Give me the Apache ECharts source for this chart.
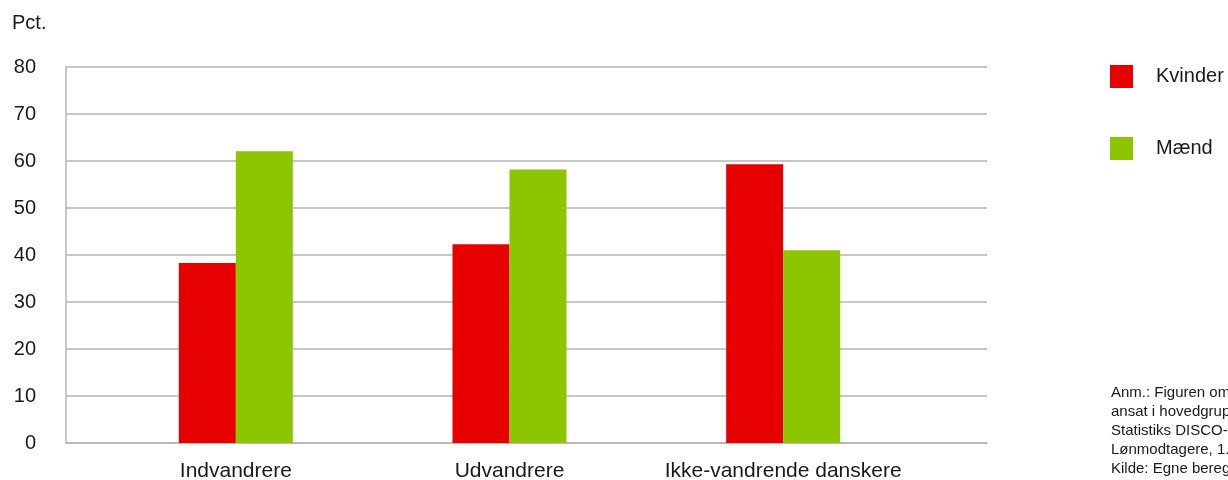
<!DOCTYPE html>
<html>
<head>
<meta charset="utf-8">
<script src="https://cdn.jsdelivr.net/npm/echarts@6/dist/echarts.min.js"></script>
<style>
html,body{margin:0;padding:0;background:#fff;}
#c{width:1228px;height:480px;}
</style>
</head>
<body>
<div id="c"></div>
<script>
var categories = ['Indvandrere', 'Udvandrere', 'Ikke-vandrende danskere'];
var kvinder = [38.3, 42.3, 59.3];
var maend = [62.1, 58.2, 41.0];
var seriesNames = ['Kvinder', 'Mænd'];
var yTicks = { min: 0, max: 80, interval: 10 };
var yUnit = 'Pct.';
var noteLines = [
  'Anm.: Figuren omfatter personer',
  'ansat i hovedgruppe i Danmarks',
  'Statistiks DISCO-klassifikation.',
  'Lønmodtagere, 1. halvår.',
  'Kilde: Egne beregninger.'
];

var FONT = '"Liberation Sans", Arial, Helvetica, sans-serif';
var GRIDC = '#b4b4b4';
var chart = echarts.init(document.getElementById('c'), null, {renderer: 'canvas'});
chart.setOption({
  animation: false,
  textStyle: {fontFamily: FONT},
  grid: [
    {left: 66, right: 241, top: 67, bottom: 37, containLabel: false, outerBoundsMode: 'none'},
    {left: 99, right: 308, top: 67, bottom: 37, containLabel: false, outerBoundsMode: 'none'}
  ],
  xAxis: [
    {gridIndex: 0, type: 'category', data: [''], axisLine: {show: true, lineStyle: {color: GRIDC, width: 1.5}},
     axisTick: {show: false}, axisLabel: {show: false}, splitLine: {show: false}},
    {gridIndex: 1, type: 'category', data: categories, axisLine: {show: false}, axisTick: {show: false},
     axisLabel: {interval: 0, fontSize: 21, color: '#1a1a1a', margin: 18, fontFamily: FONT}}
  ],
  yAxis: [
    {gridIndex: 0, type: 'value', min: yTicks.min, max: yTicks.max, interval: yTicks.interval,
     axisLine: {show: true, lineStyle: {color: GRIDC, width: 1.5}}, axisTick: {show: false},
     axisLabel: {fontSize: 20, color: '#1a1a1a', margin: 30, fontFamily: FONT},
     splitLine: {show: true, lineStyle: {color: GRIDC, width: 1.5}}},
    {gridIndex: 1, type: 'value', min: yTicks.min, max: yTicks.max, interval: yTicks.interval,
     show: false, splitLine: {show: false}}
  ],
  legend: {
    orient: 'vertical', left: 1105, top: 60, itemWidth: 23, itemHeight: 23, itemGap: 49,
    icon: 'rect', data: seriesNames,
    textStyle: {fontSize: 20, color: '#1a1a1a', fontFamily: FONT, padding: [0, 0, 0, 18]}
  },
  graphic: [
    {type: 'text', left: 12, top: 13, style: {text: yUnit, fontSize: 20, fill: '#1a1a1a', fontFamily: FONT}},
    {type: 'text', left: 1111, top: 383, style: {text: noteLines.join('\n'), fontSize: 15, lineHeight: 19, fill: '#1a1a1a', fontFamily: FONT}}
  ],
  series: [
    {name: seriesNames[0], type: 'bar', xAxisIndex: 1, yAxisIndex: 1, data: kvinder,
     barWidth: 57, barGap: '0%', itemStyle: {color: '#e60000'}},
    {name: seriesNames[1], type: 'bar', xAxisIndex: 1, yAxisIndex: 1, data: maend,
     barWidth: 57, barGap: '0%', itemStyle: {color: '#8dc600'}}
  ]
});
</script>
</body>
</html>
